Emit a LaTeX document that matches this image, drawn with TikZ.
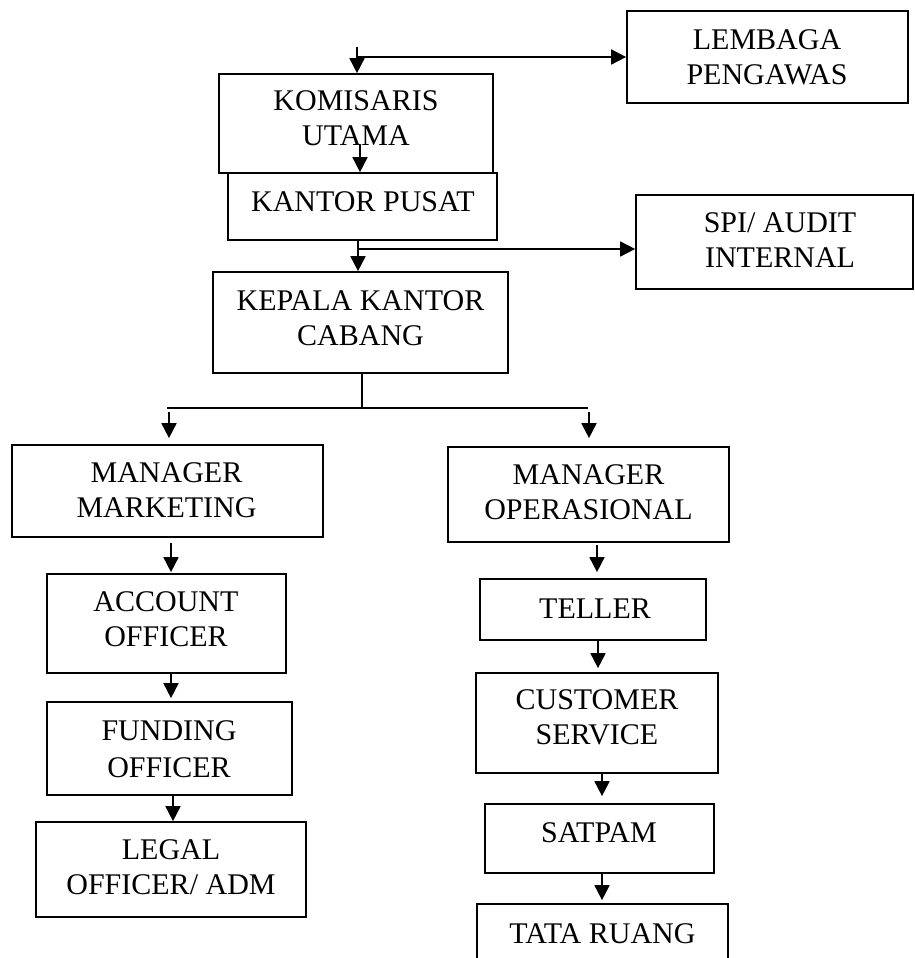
\documentclass[tikz,border=0pt]{standalone}
\usepackage{fontspec}
\setmainfont{Liberation Serif}
\usetikzlibrary{arrows.meta}
\begin{document}
\begin{tikzpicture}[x=1pt,y=-1pt,
  box/.style={draw=black, line width=1.7pt, rectangle, inner sep=0pt},
  txt/.style={inner sep=0pt, align=center, font=\fontsize{30}{35}\selectfont},
  conn/.style={line width=1.8pt},
  arr/.style={line width=1.8pt, -{Triangle[length=15pt,width=15pt]}}]
\useasboundingbox (0,0) rectangle (914,958);
\clip (0,0) rectangle (914,958);
% boxes
\node[box, minimum width=281pt, minimum height=92pt]  (lemb) at (767.5,57) {};
\node[box, minimum width=274pt, minimum height=99pt]  (kom)  at (356,123.5) {};
\node[box, minimum width=269pt, minimum height=67pt]  (kp)   at (362.5,206.5) {};
\node[box, minimum width=277pt, minimum height=94pt]  (spi)  at (774.5,242) {};
\node[box, minimum width=295pt, minimum height=101pt] (kep)  at (360.5,322.5) {};
\node[box, minimum width=311pt, minimum height=92pt]  (mm)   at (167.5,491) {};
\node[box, minimum width=281pt, minimum height=95pt]  (mo)   at (588.5,494.5) {};
\node[box, minimum width=239pt, minimum height=99pt]  (ao)   at (166.5,623.5) {};
\node[box, minimum width=226pt, minimum height=61pt]  (tel)  at (593,609.5) {};
\node[box, minimum width=245pt, minimum height=93pt]  (fo)   at (169.5,748.5) {};
\node[box, minimum width=242pt, minimum height=100pt] (cs)   at (597,723) {};
\node[box, minimum width=270pt, minimum height=95pt]  (leg)  at (171,869.5) {};
\node[box, minimum width=229pt, minimum height=69pt]  (sat)  at (599.5,838.5) {};
\node[box, minimum width=251pt, minimum height=100pt] (tata) at (602.5,954) {};
% texts
\node[txt] (lembt) at (767,57.5) {LEMBAGA\\PENGAWAS};
\node[txt] (komt)  at (356,118.5) {KOMISARIS\\UTAMA};
\node[txt] (kpt)   at (363,202) {KANTOR PUSAT};
\node[txt] (spit)  at (780,240) {SPI/ AUDIT\\INTERNAL};
\node[txt] (kept)  at (360.5,318) {KEPALA KANTOR\\CABANG};
\node[txt] (mmt)   at (166.5,490) {MANAGER\\MARKETING};
\node[txt] (mot)   at (588.5,492.5) {MANAGER\\OPERASIONAL};
\node[txt] (aot)   at (166,619) {ACCOUNT\\OFFICER};
\node[txt] (telt)  at (595,609) {TELLER};
\node[txt, font=\fontsize{30}{37}\selectfont] (fot) at (169,749.5) {FUNDING\\OFFICER};
\node[txt] (cst)   at (597,717.5) {CUSTOMER\\SERVICE};
\node[txt] (legt)  at (171,867.5) {LEGAL\\OFFICER/ ADM};
\node[txt] (satt)  at (599,832.5) {SATPAM};
\node[txt] (tatat) at (602.5,934) {TATA RUANG};
% connectors
\coordinate (t1) at (357,47);
\draw[arr] (t1) -- (t1 |- kom.north);
\coordinate (h1) at (358,57);
\draw[arr] (h1) -- (h1 -| lemb.west);
\coordinate (k1) at (360,145);
\draw[arr] (k1) -- (k1 |- kp.north);
\coordinate (k2) at (358,240);
\draw[arr] (k2) -- (k2 |- kep.north);
\coordinate (h2) at (359,249);
\draw[arr] (h2) -- (h2 -| spi.west);
\coordinate (s0) at (362,408);
\draw[conn] (kep.south -| s0) -- (s0);
\coordinate (sl) at (167,408);
\coordinate (sr) at (588,408);
\draw[conn] (sl) -- (sr);
\coordinate (al) at (169,412);
\coordinate (ar) at (589,412);
\draw[arr, shorten >=6pt] (al) -- (al |- mm.north);
\draw[arr, shorten >=8pt] (ar) -- (ar |- mo.north);
\coordinate (m1) at (171,543);
\draw[arr, shorten >=1pt] (m1) -- (m1 |- ao.north);
\coordinate (a1) at (171,673);
\draw[arr, shorten >=3pt] (a1) -- (a1 |- fo.north);
\coordinate (f1) at (173,795);
\draw[arr] (f1) -- (f1 |- leg.north);
\coordinate (o1) at (597,545);
\draw[arr, shorten >=6pt] (o1) -- (o1 |- tel.north);
\coordinate (e1) at (598,640);
\draw[arr, shorten >=4pt] (e1) -- (e1 |- cs.north);
\coordinate (c1) at (602,773);
\draw[arr, shorten >=7pt] (c1) -- (c1 |- sat.north);
\coordinate (p1) at (602,873);
\draw[arr, shorten >=3pt] (p1) -- (p1 |- tata.north);
\end{tikzpicture}
\end{document}
